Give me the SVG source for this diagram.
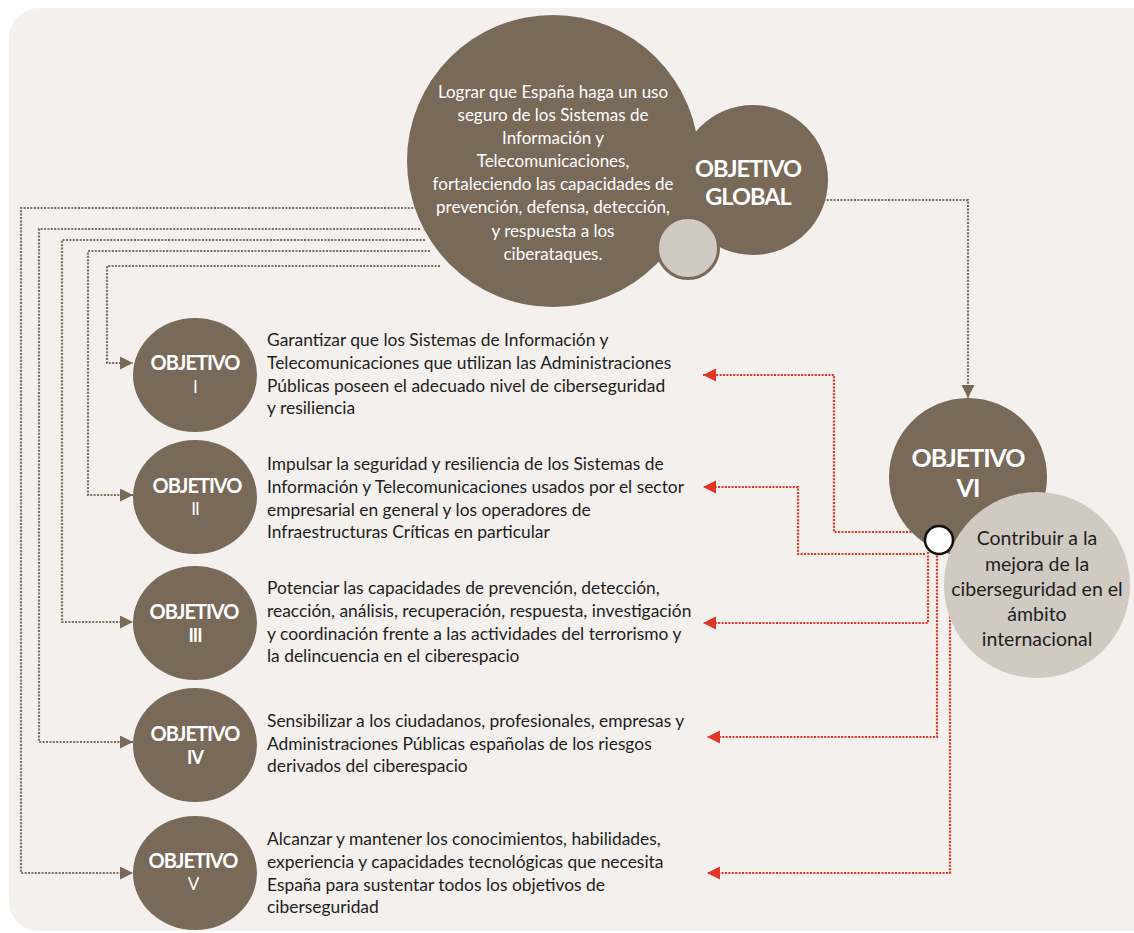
<svg xmlns="http://www.w3.org/2000/svg" width="1134" height="933" viewBox="0 0 1134 933">
<defs>
<style>
.bg{fill:#f3f0ed}
.brown{fill:#786958}
.grey{fill:#d1cac3}
.gc{fill:none;stroke:#7d6e5e;stroke-width:2.2;stroke-dasharray:2 1.4}
.rc{fill:none;stroke:#e23424;stroke-width:2.2;stroke-dasharray:2 1.4}
.body{font-family:Lato,"Liberation Sans",sans-serif;font-size:17.4px;fill:#1e1e1e}
.gt{font-family:Lato,"Liberation Sans",sans-serif;font-size:17px;fill:#ffffff;text-anchor:middle}
.hd{font-family:Lato,"Liberation Sans",sans-serif;font-weight:700;fill:#ffffff;text-anchor:middle;letter-spacing:-1px}
.ct{font-family:Lato,"Liberation Sans",sans-serif;font-size:19.5px;fill:#1e1e1e;text-anchor:middle}
</style>
<marker id="ag" markerUnits="userSpaceOnUse" markerWidth="14" markerHeight="14" refX="13" refY="6.5" orient="auto"><path d="M0,0 L13,6.5 L0,13 z" fill="#786958"/></marker>
<marker id="ar" markerUnits="userSpaceOnUse" markerWidth="14" markerHeight="14" refX="13" refY="6.5" orient="auto"><path d="M0,0 L13,6.5 L0,13 z" fill="#e23424"/></marker>
</defs>
<rect class="bg" x="9" y="8" width="1160" height="923" rx="30" ry="30"/>
<g id="connectors">
<path class="gc" marker-end="url(#ag)" d="M420,208 H21 V873 H133"/>
<path class="gc" marker-end="url(#ag)" d="M420,229 H39 V742 H133"/>
<path class="gc" marker-end="url(#ag)" d="M425,240 H62 V622 H133"/>
<path class="gc" marker-end="url(#ag)" d="M430,251 H88 V495 H133"/>
<path class="gc" marker-end="url(#ag)" d="M440,266 H107 V363 H133"/>
<path class="gc" marker-end="url(#ag)" d="M820,200 H968 V398"/>
<path class="rc" marker-end="url(#ar)" d="M925,532 H834 V375 H703"/>
<path class="rc" marker-end="url(#ar)" d="M925,554 H798 V487 H703"/>
<path class="rc" marker-end="url(#ar)" d="M928,552 V623 H703"/>
<path class="rc" marker-end="url(#ar)" d="M937,552 V737 H707"/>
<path class="rc" marker-end="url(#ar)" d="M950,552 V873 H707"/>
</g>
<g id="objetivo-global">
<circle class="brown" cx="553" cy="161" r="146"/>
<circle class="brown" cx="753" cy="180" r="75"/>
<circle class="grey" cx="688" cy="248" r="30.5" stroke="#786958" stroke-width="3"/>
<text class="gt"><tspan x="553" y="98">Lograr que España haga un uso</tspan><tspan x="553" y="121">seguro de los Sistemas de</tspan><tspan x="553" y="144">Información y</tspan><tspan x="553" y="167">Telecomunicaciones,</tspan><tspan x="553" y="190">fortaleciendo las capacidades de</tspan><tspan x="553" y="213">prevención, defensa, detección,</tspan><tspan x="553" y="237">y respuesta a los</tspan><tspan x="553" y="260">ciberataques.</tspan></text>
<text class="hd" font-size="23.5" x="748" y="177">OBJETIVO</text>
<text class="hd" font-size="23.5" x="748" y="205">GLOBAL</text>
</g>
<g id="objetivo-1">
<ellipse class="brown" cx="195" cy="375" rx="62" ry="57"/>
<text class="hd" font-size="20" x="195" y="370">OBJETIVO</text>
<text class="hd" font-size="17" x="195" y="393" style="font-weight:400">I</text>
<text class="body"><tspan x="267" y="346">Garantizar que los Sistemas de Información y</tspan><tspan x="267" y="369">Telecomunicaciones que utilizan las Administraciones</tspan><tspan x="267" y="392">Públicas poseen el adecuado nivel de ciberseguridad</tspan><tspan x="267" y="414">y resiliencia</tspan></text>
</g>
<g id="objetivo-2">
<ellipse class="brown" cx="195" cy="497" rx="62" ry="57"/>
<text class="hd" font-size="20" x="197" y="493">OBJETIVO</text>
<text class="hd" font-size="17" x="195" y="515" style="font-weight:400">II</text>
<text class="body"><tspan x="267" y="470">Impulsar la seguridad y resiliencia de los Sistemas de</tspan><tspan x="267" y="493">Información y Telecomunicaciones usados por el sector</tspan><tspan x="267" y="516">empresarial en general y los operadores de</tspan><tspan x="267" y="538">Infraestructuras Críticas en particular</tspan></text>
</g>
<g id="objetivo-3">
<ellipse class="brown" cx="195" cy="623" rx="62" ry="57"/>
<text class="hd" font-size="20" x="194" y="619">OBJETIVO</text>
<text class="hd" font-size="18" x="195" y="642">III</text>
<text class="body"><tspan x="267" y="594">Potenciar las capacidades de prevención, detección,</tspan><tspan x="267" y="617">reacción, análisis, recuperación, respuesta, investigación</tspan><tspan x="267" y="640">y coordinación frente a las actividades del terrorismo y</tspan><tspan x="267" y="662">la delincuencia en el ciberespacio</tspan></text>
</g>
<g id="objetivo-4">
<ellipse class="brown" cx="195" cy="745" rx="62" ry="57"/>
<text class="hd" font-size="20" x="195" y="741">OBJETIVO</text>
<text class="hd" font-size="18" x="195" y="764">IV</text>
<text class="body"><tspan x="267" y="727">Sensibilizar a los ciudadanos, profesionales, empresas y</tspan><tspan x="267" y="750">Administraciones Públicas españolas de los riesgos</tspan><tspan x="267" y="772">derivados del ciberespacio</tspan></text>
</g>
<g id="objetivo-5">
<ellipse class="brown" cx="195" cy="873" rx="62" ry="57"/>
<text class="hd" font-size="20" x="193" y="868">OBJETIVO</text>
<text class="hd" font-size="17" x="193" y="890" style="font-weight:400">V</text>
<text class="body"><tspan x="267" y="845">Alcanzar y mantener los conocimientos, habilidades,</tspan><tspan x="267" y="868">experiencia y capacidades tecnológicas que necesita</tspan><tspan x="267" y="891">España para sustentar todos los objetivos de</tspan><tspan x="267" y="913">ciberseguridad</tspan></text>
</g>
<g id="objetivo-6">
<circle class="brown" cx="968" cy="477" r="79"/>
<text class="hd" font-size="25" x="968" y="467">OBJETIVO</text>
<text class="hd" font-size="25" x="968" y="497">VI</text>
<circle class="grey" cx="1037" cy="585" r="93"/>
<text class="ct"><tspan x="1037" y="545">Contribuir a la</tspan><tspan x="1037" y="571">mejora de la</tspan><tspan x="1037" y="596">ciberseguridad en el</tspan><tspan x="1037" y="621">ámbito</tspan><tspan x="1037" y="646">internacional</tspan></text>
</g>
<g id="nodo-union">
<circle cx="939" cy="540" r="14" fill="#ffffff" stroke="#111111" stroke-width="2.5"/>
</g>
</svg>
